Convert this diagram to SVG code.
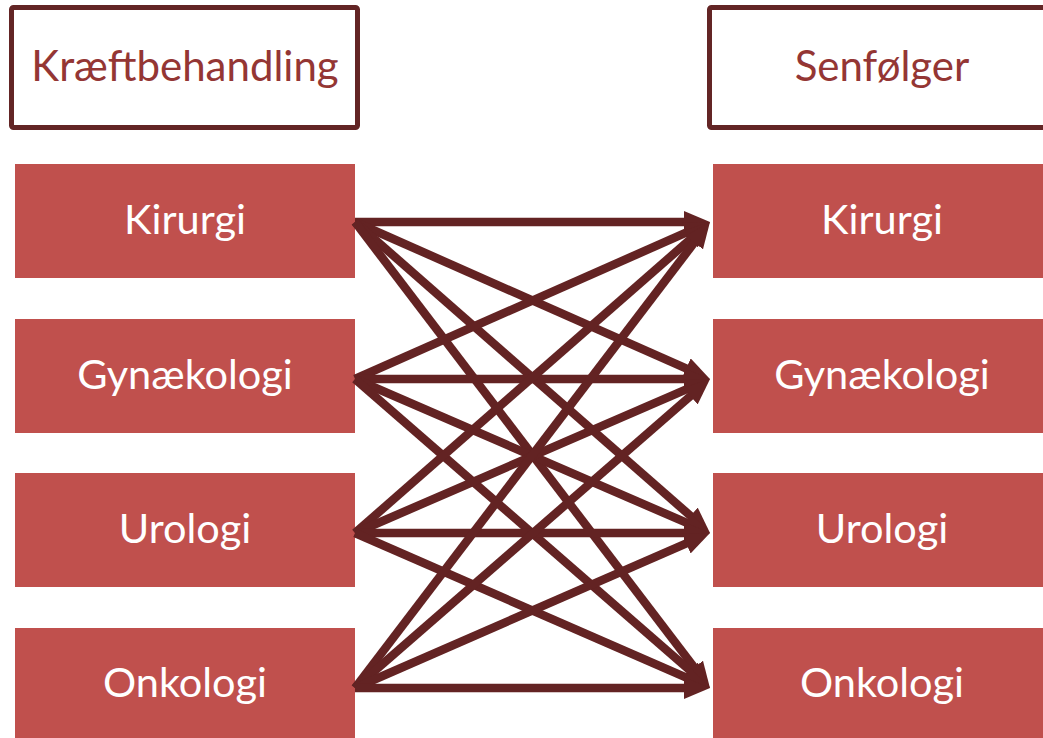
<svg xmlns="http://www.w3.org/2000/svg" width="1043" height="738" viewBox="0 0 1043 738">
<style>
.hdr{fill:#ffffff;stroke:#632525;stroke-width:5}
.hdrt{font-family:Lato,"Liberation Sans",sans-serif;font-size:42px;fill:#943634;text-anchor:middle}
.box{fill:#C0504D}
.bt{font-family:Lato,"Liberation Sans",sans-serif;font-size:41.5px;fill:#ffffff;text-anchor:middle}
.c{stroke:#632323;stroke-width:8.5;fill:none;marker-end:url(#ah)}
</style>
<defs>
<marker id="ah" markerUnits="userSpaceOnUse" markerWidth="26" markerHeight="22" refX="14" refY="11" orient="auto">
<path d="M0,0 L26,11 L0,22 z" fill="#632323"/>
</marker>
</defs>
<rect width="1043" height="738" fill="#ffffff"/>
<g id="hdr-left"><rect class="hdr" x="11.5" y="7.5" width="346" height="120" rx="2"/><text class="hdrt" x="185" y="81">Kræftbehandling</text></g>
<g id="hdr-right"><rect class="hdr" x="709.5" y="7.5" width="400" height="120" rx="2"/><text class="hdrt" x="882" y="81">Senfølger</text></g>
<g id="l-kir"><rect class="box" x="15" y="164" width="340" height="114"/><text class="bt" x="185" y="234">Kirurgi</text></g>
<g id="l-gyn"><rect class="box" x="15" y="319" width="340" height="114"/><text class="bt" x="185" y="389">Gynækologi</text></g>
<g id="l-uro"><rect class="box" x="15" y="473" width="340" height="114"/><text class="bt" x="185" y="543">Urologi</text></g>
<g id="l-onk"><rect class="box" x="15" y="628" width="340" height="114"/><text class="bt" x="185" y="697">Onkologi</text></g>
<g id="r-kir"><rect class="box" x="713" y="164" width="340" height="114"/><text class="bt" x="882" y="234">Kirurgi</text></g>
<g id="r-gyn"><rect class="box" x="713" y="319" width="340" height="114"/><text class="bt" x="882" y="389">Gynækologi</text></g>
<g id="r-uro"><rect class="box" x="713" y="473" width="340" height="114"/><text class="bt" x="882" y="543">Urologi</text></g>
<g id="r-onk"><rect class="box" x="713" y="628" width="340" height="114"/><text class="bt" x="882" y="697">Onkologi</text></g>
<g id="connectors">
<line class="c" x1="355" y1="222" x2="698" y2="222"/>
<line class="c" x1="355" y1="222" x2="699" y2="374.1"/>
<line class="c" x1="355" y1="222" x2="701" y2="525.1"/>
<line class="c" x1="355" y1="222" x2="702.7" y2="678.5"/>
<line class="c" x1="355" y1="379" x2="699" y2="226.9"/>
<line class="c" x1="355" y1="379" x2="698" y2="379"/>
<line class="c" x1="355" y1="379" x2="699" y2="528.2"/>
<line class="c" x1="355" y1="379" x2="701" y2="680.1"/>
<line class="c" x1="355" y1="533" x2="701" y2="229.9"/>
<line class="c" x1="355" y1="533" x2="699" y2="383.8"/>
<line class="c" x1="355" y1="533" x2="698" y2="533"/>
<line class="c" x1="355" y1="533" x2="699" y2="683.2"/>
<line class="c" x1="355" y1="688" x2="702.7" y2="231.5"/>
<line class="c" x1="355" y1="688" x2="701" y2="386.9"/>
<line class="c" x1="355" y1="688" x2="699" y2="537.8"/>
<line class="c" x1="355" y1="688" x2="698" y2="688"/>
</g>
</svg>
